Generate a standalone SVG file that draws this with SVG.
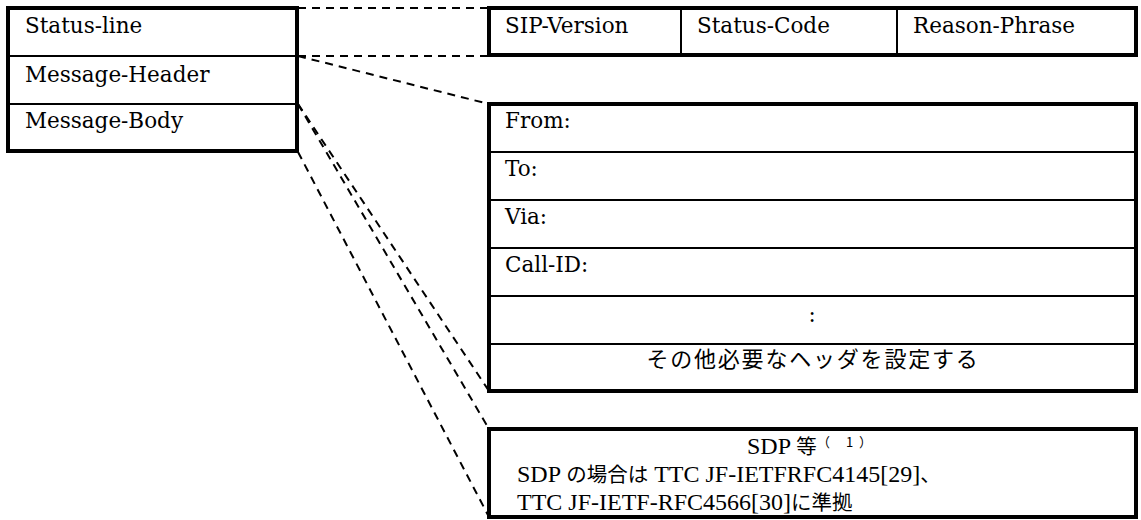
<svg xmlns="http://www.w3.org/2000/svg" width="1141" height="520" viewBox="0 0 1141 520">
  <style>
    .box{fill:#fff;stroke:#000;stroke-width:4}
    .div{stroke:#000;stroke-width:2;fill:none}
    .lbl{font-family:'DejaVu Serif','Liberation Serif',serif;font-size:21.5px;fill:#000}
    .jp{font-family:'Noto Sans CJK JP',sans-serif;fill:#000}
    .sdp{font-family:'Liberation Serif','Noto Sans CJK JP',serif;font-size:24px;fill:#000}
    .dash{stroke:#000;stroke-width:2;stroke-dasharray:8 6;fill:none}
  </style>

  <!-- connectors between message parts and their detail boxes -->
  <g id="connectors">
    <path class="dash" d="M298 8 H489"/>
    <path class="dash" d="M298 56 H489"/>
    <path class="dash" d="M298 56 L489 104"/>
    <path class="dash" d="M298 104 L489 391"/>
    <path class="dash" d="M298 104 L489 429"/>
    <path class="dash" d="M298 152 L489 517"/>
  </g>

  <!-- SIP response message structure -->
  <g id="message">
    <rect class="box" x="8" y="8" width="289" height="143"/>
    <path class="div" d="M8 56 H297 M8 104 H297"/>
    <text class="lbl" x="25" y="33">Status-line</text>
    <text class="lbl" x="25" y="82">Message-Header</text>
    <text class="lbl" x="25" y="128">Message-Body</text>
  </g>

  <!-- status line fields -->
  <g id="status-line">
    <rect class="box" x="489" y="8" width="647" height="47"/>
    <path class="div" d="M681 8 V55 M897 8 V55"/>
    <text class="lbl" x="505" y="33">SIP-Version</text>
    <text class="lbl" x="697" y="33">Status-Code</text>
    <text class="lbl" x="913" y="33">Reason-Phrase</text>
  </g>

  <!-- header fields -->
  <g id="headers">
    <rect class="box" x="489" y="104" width="647" height="287"/>
    <path class="div" d="M489 152 H1136 M489 200 H1136 M489 248 H1136 M489 296 H1136 M489 344 H1136"/>
    <text class="lbl" x="505" y="128">From:</text>
    <text class="lbl" x="505" y="176">To:</text>
    <text class="lbl" x="505" y="224">Via:</text>
    <text class="lbl" x="505" y="272">Call-ID:</text>
    <text class="lbl" x="812" y="322" text-anchor="middle">:</text>
    <text class="jp" x="813" y="367" font-size="22" letter-spacing="1.8" text-anchor="middle">その他必要なヘッダを設定する</text>
  </g>

  <!-- message body -->
  <g id="body">
    <rect class="box" x="489" y="429" width="647" height="88"/>
    <text class="sdp" x="747" y="454">SDP <tspan class="jp" font-size="20.5">等</tspan><tspan class="jp" font-size="13" x="817" dy="-7">（</tspan><tspan class="jp" font-size="13" x="846">1</tspan><tspan class="jp" font-size="13" x="859">）</tspan></text>
    <text class="sdp" x="517" y="482">SDP <tspan class="jp" font-size="20.5">の場合は</tspan> TTC JF-IETFRFC4145[29]<tspan class="jp" font-size="20.5">、</tspan></text>
    <text class="sdp" x="517" y="510">TTC JF-IETF-RFC4566[30]<tspan class="jp" font-size="20.5">に準拠</tspan></text>
  </g>
</svg>
